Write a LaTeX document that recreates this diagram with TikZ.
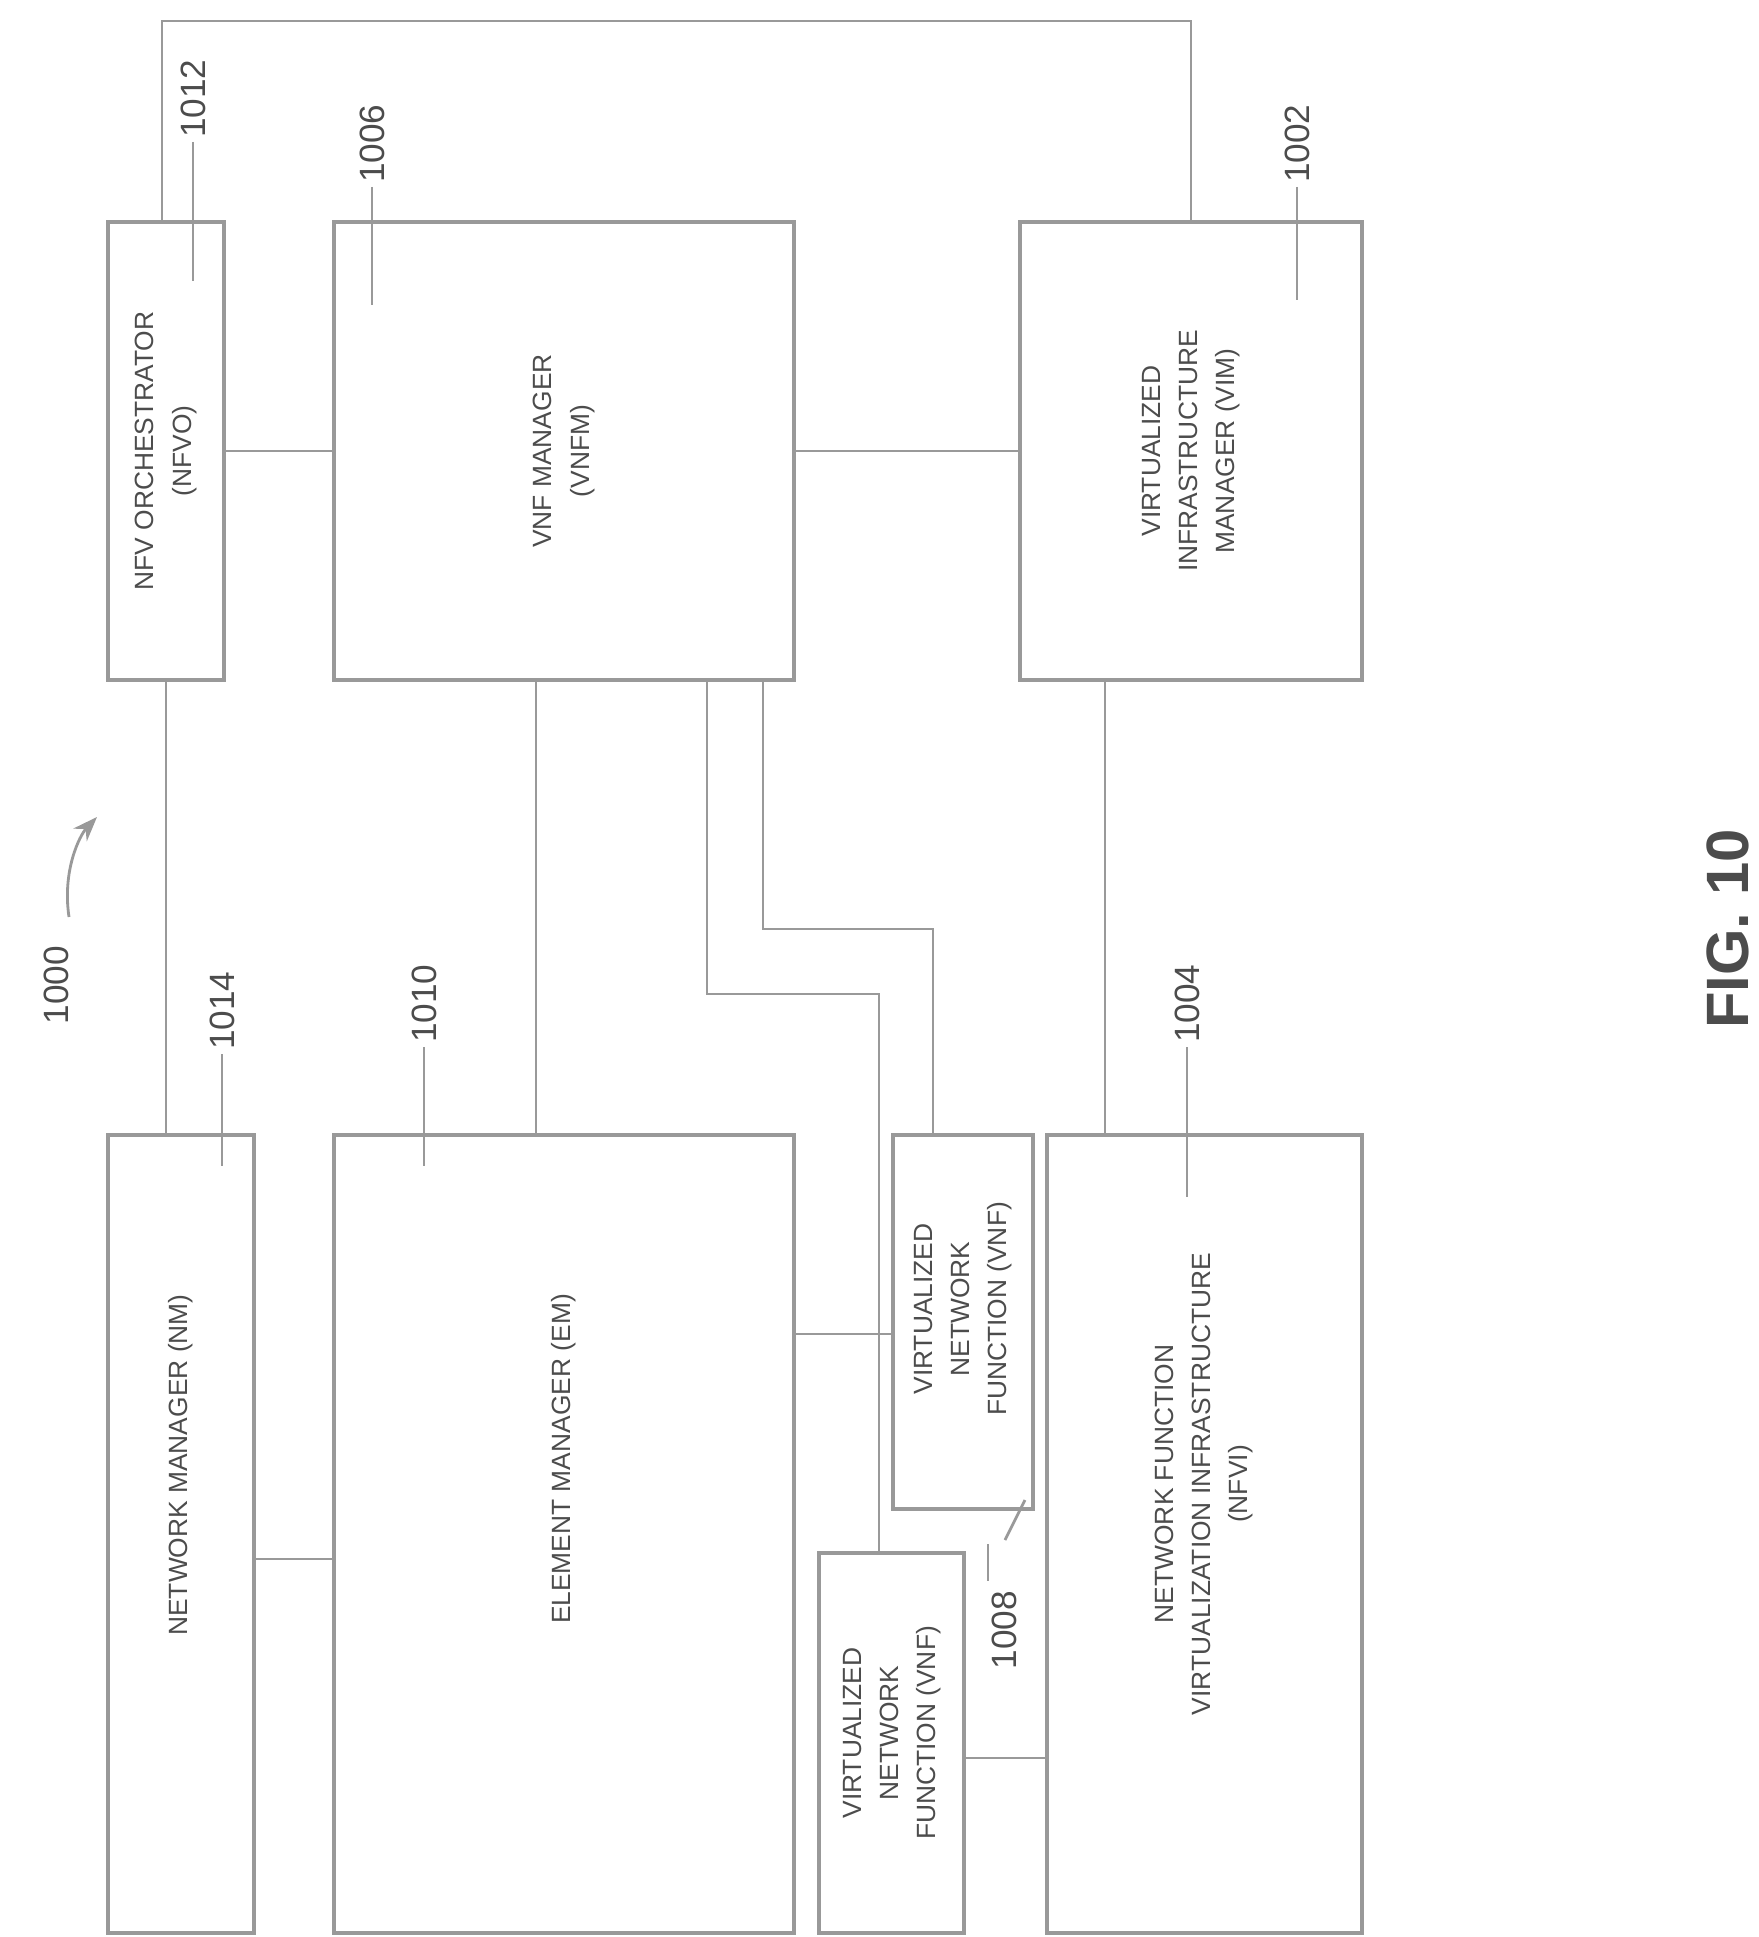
\documentclass[tikz,border=0pt]{standalone}
\usepackage{fontspec}
\setmainfont{Liberation Sans}
\usetikzlibrary{arrows.meta}
\tikzset{
  blk/.style={draw=gray!80,line width=0.9pt},
  lnk/.style={draw=gray!80,line width=0.8pt},
  txt/.style={rotate=90,align=center,font=\fontsize{7.5}{10.6}\selectfont,text=gray!60!black},
  ref/.style={rotate=90,anchor=west,inner sep=1pt,font=\fontsize{10}{12}\selectfont,text=gray!60!black},
}
\begin{document}
\begin{tikzpicture}[x=0.01cm,y=-0.01cm]
  \useasboundingbox (0,0) rectangle (1758,1937);
  % boxes
  \draw[blk] (108,222) rectangle (224,680);
  \draw[blk] (334,222) rectangle (794,680);
  \draw[blk] (1020,222) rectangle (1362,680);
  \draw[blk] (108,1135) rectangle (254,1933);
  \draw[blk] (334,1135) rectangle (794,1933);
  \draw[blk] (893,1135) rectangle (1033,1509);
  \draw[blk] (819,1553) rectangle (964,1933);
  \draw[blk] (1047,1135) rectangle (1362,1933);
  % box texts
  \node[txt] (nfvo) at (166,451) {NFV ORCHESTRATOR\\(NFVO)};
  \node[txt] (vnfm) at (564,451) {VNF MANAGER\\(VNFM)};
  \node[txt] (vim) at (1191,451) {VIRTUALIZED\\INFRASTRUCTURE\\MANAGER (VIM)};
  \node[txt] (nm) at (181,1465) {NETWORK MANAGER (NM)};
  \node[txt] (em) at (564,1459) {ELEMENT MANAGER (EM)};
  \node[txt] (vnfa) at (963,1309) {VIRTUALIZED\\NETWORK\\FUNCTION (VNF)};
  \node[txt] (vnfb) at (892,1733) {VIRTUALIZED\\NETWORK\\FUNCTION (VNF)};
  \node[txt] (nfvi) at (1204,1484) {NETWORK FUNCTION\\VIRTUALIZATION INFRASTRUCTURE\\(NFVI)};
  % links
  \draw[lnk] (162,222) -- (162,21) -- (1191,21) -- (1191,222);
  \draw[lnk] (224,451) -- (334,451);
  \draw[lnk] (794,451) -- (1020,451);
  \draw[lnk] (166,680) -- (166,1135);
  \draw[lnk] (536,680) -- (536,1135);
  \draw[lnk] (1105,680) -- (1105,1135);
  \draw[lnk] (254,1559) -- (334,1559);
  \draw[lnk] (794,1334) -- (893,1334);
  \draw[lnk] (964,1758) -- (1047,1758);
  \draw[lnk] (707,680) -- (707,994) -- (879,994) -- (879,1553);
  \draw[lnk] (763,680) -- (763,929) -- (933,929) -- (933,1135);
  % reference numerals
  \draw[lnk] (193,142) -- (193,281);
  \node[ref] (r1012) at (193,142) {1012};
  \draw[lnk] (372,187) -- (372,305);
  \node[ref] (r1006) at (372,187) {1006};
  \draw[lnk] (1297,187) -- (1297,300);
  \node[ref] (r1002) at (1297,187) {1002};
  \draw[lnk] (222,1054) -- (222,1166);
  \node[ref] (r1014) at (222,1054) {1014};
  \draw[lnk] (424,1047) -- (424,1166);
  \node[ref] (r1010) at (424,1047) {1010};
  \draw[lnk] (1187,1047) -- (1187,1197);
  \node[ref] (r1004) at (1187,1047) {1004};
  \node[rotate=90,inner sep=1pt,font=\fontsize{10}{12}\selectfont,text=gray!60!black] (r1008) at (1004,1630) {1008};
  \draw[lnk] (988,1544) -- (988,1581);
  \draw[lnk] (1005,1540) -- (1025,1500);
  \node[rotate=90,inner sep=1pt,font=\fontsize{10}{12}\selectfont,text=gray!60!black] (r1000) at (56,985) {1000};
  \draw[lnk,-{Stealth[length=7pt]}] (69,917) .. controls (62,870) and (80,835) .. (97,817);
  \node[rotate=90,inner sep=0pt,font=\bfseries\fontsize{17}{19}\selectfont,text=gray!60!black] (fig) at (1728,929) {FIG. 10};
\end{tikzpicture}
\end{document}
